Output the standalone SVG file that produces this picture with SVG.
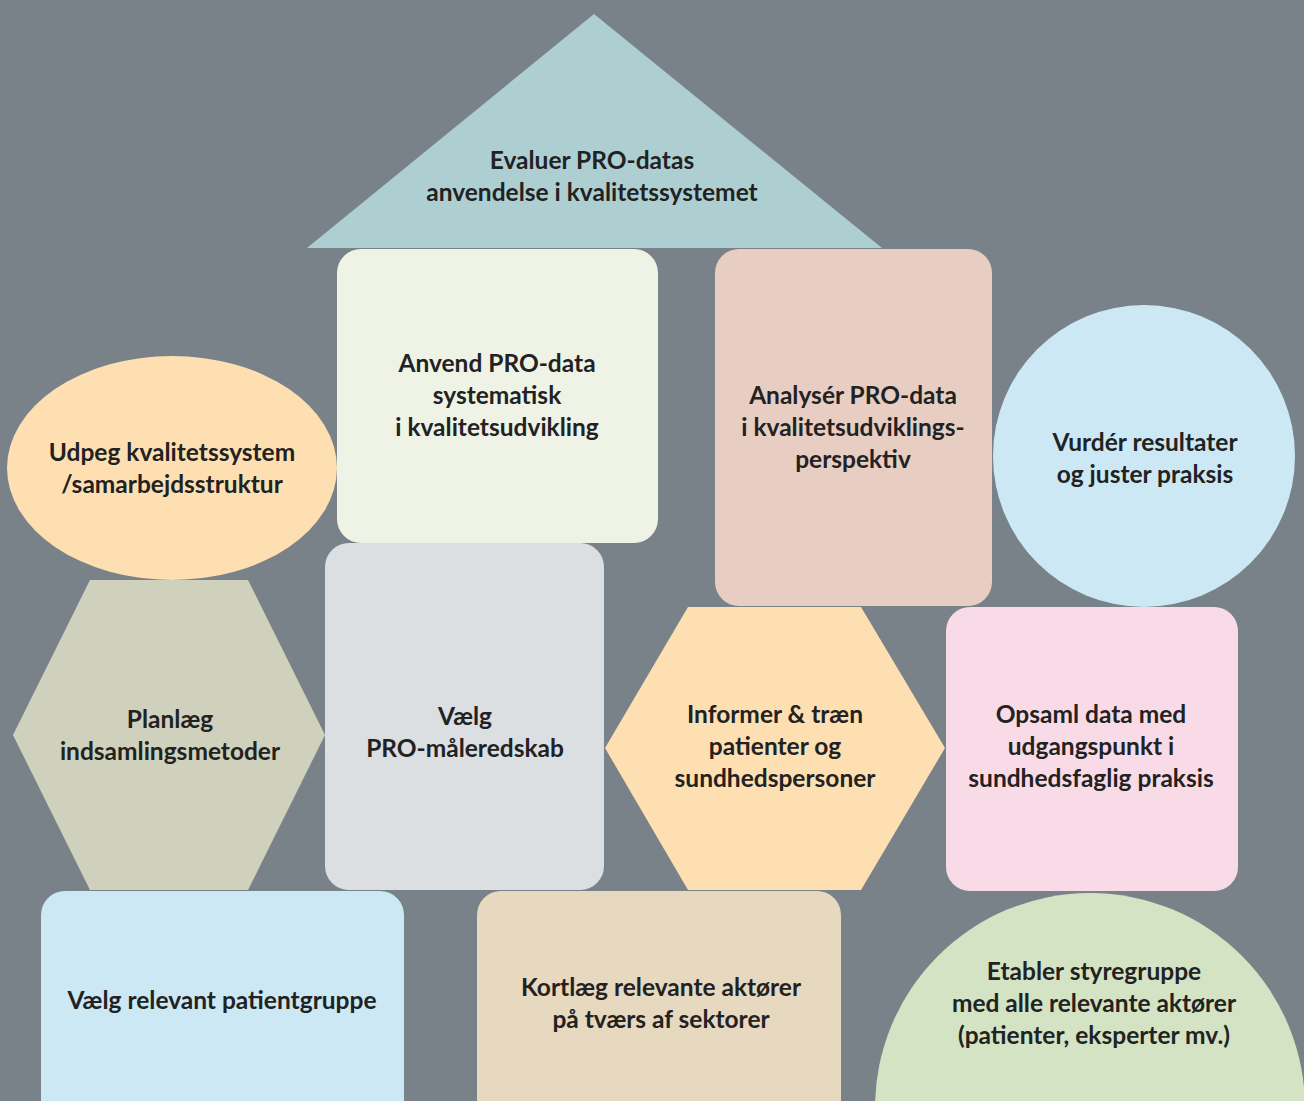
<svg xmlns="http://www.w3.org/2000/svg" width="1304" height="1101" viewBox="0 0 1304 1101">
  <style>
    .lbl { font-family: Lato, "Open Sans", "Liberation Sans", sans-serif; font-weight: 700; font-size: 24.5px; fill: #222222; text-anchor: middle; }
  </style>
  <!-- backdrop -->
  <rect x="0" y="0" width="1304" height="1101" fill="#7a8289"/>

  <!-- roof -->
  <g id="evaluer">
    <polygon points="594,14 882,248 307,248" fill="#aecfd2"/>
    <text class="lbl" x="592" y="169">Evaluer PRO-datas</text>
    <text class="lbl" x="592" y="201">anvendelse i kvalitetssystemet</text>
  </g>

  <g id="anvend">
    <rect x="337" y="249" width="321" height="294" rx="24" fill="#eef3e6"/>
    <text class="lbl" x="497" y="372">Anvend PRO-data</text>
    <text class="lbl" x="497" y="404">systematisk</text>
    <text class="lbl" x="497" y="436">i kvalitetsudvikling</text>
  </g>

  <g id="analyser">
    <rect x="715" y="249" width="277" height="357" rx="24" fill="#e7cdc2"/>
    <text class="lbl" x="853" y="404">Analysér PRO-data</text>
    <text class="lbl" x="853" y="436">i kvalitetsudviklings-</text>
    <text class="lbl" x="853" y="468">perspektiv</text>
  </g>

  <g id="udpeg">
    <ellipse cx="172" cy="468" rx="165" ry="112" fill="#fddfb2"/>
    <text class="lbl" x="172" y="461">Udpeg kvalitetssystem</text>
    <text class="lbl" x="172" y="493">/samarbejdsstruktur</text>
  </g>

  <g id="vurder">
    <circle cx="1144" cy="456" r="151" fill="#cce8f5"/>
    <text class="lbl" x="1145" y="451">Vurdér resultater</text>
    <text class="lbl" x="1145" y="483">og juster praksis</text>
  </g>

  <g id="planlaeg">
    <polygon points="13,735 90,580 248,580 325,735 248,890 90,890" fill="#cfd1bc"/>
    <text class="lbl" x="170" y="728">Planlæg</text>
    <text class="lbl" x="170" y="760">indsamlingsmetoder</text>
  </g>

  <g id="vaelg-pro">
    <rect x="325" y="543" width="279" height="347" rx="24" fill="#dbdfe2"/>
    <text class="lbl" x="465" y="725">Vælg</text>
    <text class="lbl" x="465" y="757">PRO-måleredskab</text>
  </g>

  <g id="informer">
    <polygon points="605,748 688,607 861,607 945,748 861,890 688,890" fill="#fddfb2"/>
    <text class="lbl" x="775" y="723">Informer &amp; træn</text>
    <text class="lbl" x="775" y="755">patienter og</text>
    <text class="lbl" x="775" y="787">sundhedspersoner</text>
  </g>

  <g id="opsaml">
    <rect x="946" y="607" width="292" height="284" rx="24" fill="#f9dbe7"/>
    <text class="lbl" x="1091" y="723">Opsaml data med</text>
    <text class="lbl" x="1091" y="755">udgangspunkt i</text>
    <text class="lbl" x="1091" y="787">sundhedsfaglig praksis</text>
  </g>

  <g id="vaelg-patientgruppe">
    <rect x="41" y="891" width="363" height="240" rx="24" fill="#cce8f5"/>
    <text class="lbl" x="222" y="1009">Vælg relevant patientgruppe</text>
  </g>

  <g id="kortlaeg">
    <rect x="477" y="891" width="364" height="240" rx="24" fill="#e7d8c0"/>
    <text class="lbl" x="661" y="996">Kortlæg relevante aktører</text>
    <text class="lbl" x="661" y="1028">på tværs af sektorer</text>
  </g>

  <g id="etabler">
    <circle cx="1090" cy="1108" r="215" fill="#d3e3c4"/>
    <text class="lbl" x="1094" y="980">Etabler styregruppe</text>
    <text class="lbl" x="1094" y="1012">med alle relevante aktører</text>
    <text class="lbl" x="1094" y="1044">(patienter, eksperter mv.)</text>
  </g>

  <!-- the figure has no connectors -->
  <g id="connectors"/>
</svg>
